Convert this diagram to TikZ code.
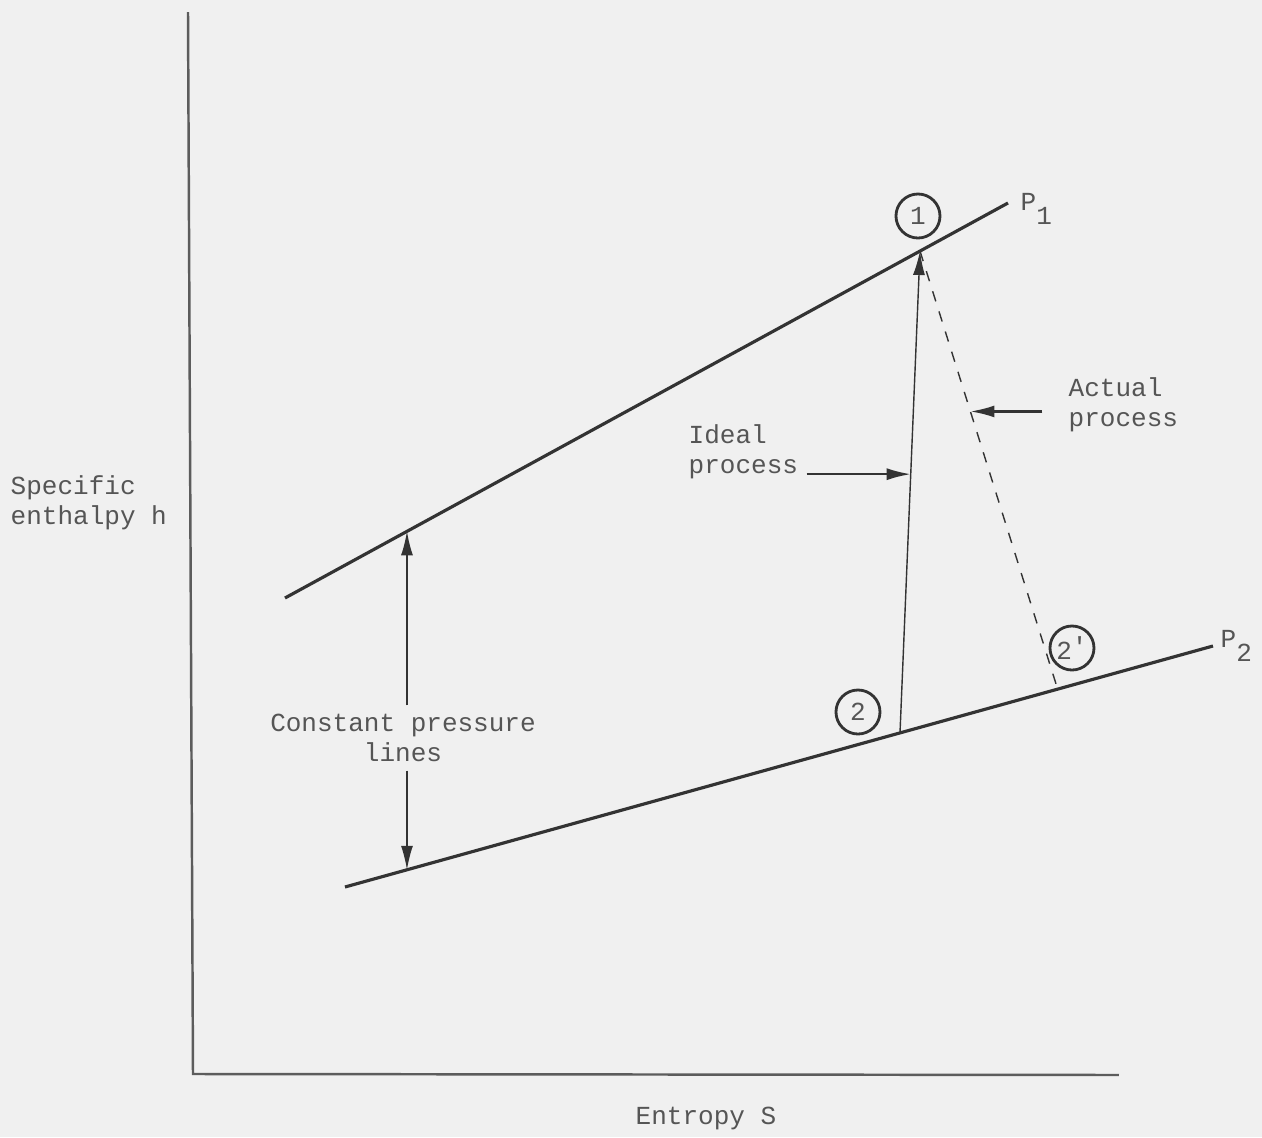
\documentclass[tikz,border=0pt]{standalone}
\usepackage{fontspec}
\setmonofont{Liberation Mono}
\usetikzlibrary{arrows.meta}
\definecolor{paper}{HTML}{F0F0F0}
\definecolor{ink}{HTML}{333333}
\definecolor{txt}{HTML}{555555}
\tikzset{
  state/.style={circle, draw=ink, thick, minimum size=0.44cm, inner sep=0pt},
  lbl/.style={text=txt, align=left, inner sep=0.08cm},
  line/.style={draw=ink, line width=0.9pt},
}
\begin{document}
\begin{tikzpicture}[x=0.01cm, y=-0.01cm, >={Latex[length=0.24cm, width=0.12cm]},
  font=\ttfamily\fontsize{7.4}{8.6}\selectfont]
\fill[paper] (0,0) rectangle (1262,1137);

% axes
\draw[draw=ink!80, line width=0.7pt] (188,12) -- (193,1074) -- (1119,1075);
\node[lbl, anchor=west] (hlab) at (2,503) {Specific\\enthalpy h};
\node[lbl] (slab) at (706,1118) {Entropy S};

% constant pressure lines
\coordinate (p1a) at (285,598);
\coordinate (p1b) at (1008,203);
\coordinate (p2a) at (345,887);
\coordinate (p2b) at (1213,646);
\draw[line] (p1a) -- (p1b);
\draw[line] (p2a) -- (p2b);
\node[text=txt, anchor=west, inner sep=0pt] (p1) at (1020,209) {P\raisebox{-0.55em}{1}};
\node[text=txt, anchor=west, inner sep=0pt] (p2) at (1220,646) {P\raisebox{-0.55em}{2}};

% states
\coordinate (s1) at (920,251);
\coordinate (s2) at (900,733);
\coordinate (s2p) at (1057,687);
\node[state, text=txt] (c1) at (918,216) {1};
\node[state, text=txt] (c2) at (858,712) {2};
\node[state, text=txt] (c2p) at (1072,648) {2\raisebox{0.3ex}{'}};

% processes
\draw[line, thin, ->] (s2) -- (s1);
\draw[line, thin, dashed] (s1) -- (s2p);
\path (s2) -- (s1) coordinate[pos=0.537] (ih);
\path (s1) -- (s2p) coordinate[pos=0.368] (ah);

\node[lbl, anchor=south west] (ideal) at (680,488) {Ideal\\process};
\draw[ink, semithick, ->] (ideal.east |- ih) -- (ih);
\node[lbl, anchor=south west] (actual) at (1060,441) {Actual\\process};
\draw[ink, semithick, ->] ([xshift=-5]actual.west |- ah) -- (ah);

% pressure difference
\path (p1a) -- (p1b) coordinate[pos=0.1687] (up);
\path (p2a) -- (p2b) coordinate[pos=0.0714] (lo);
\node[lbl, align=center] (cpl) at (403,738) {Constant pressure\\lines};
\draw[ink, thin, ->] (cpl.north -| up) -- (up);
\draw[ink, thin, ->] (cpl.south -| lo) -- (lo);
\end{tikzpicture}
\end{document}
